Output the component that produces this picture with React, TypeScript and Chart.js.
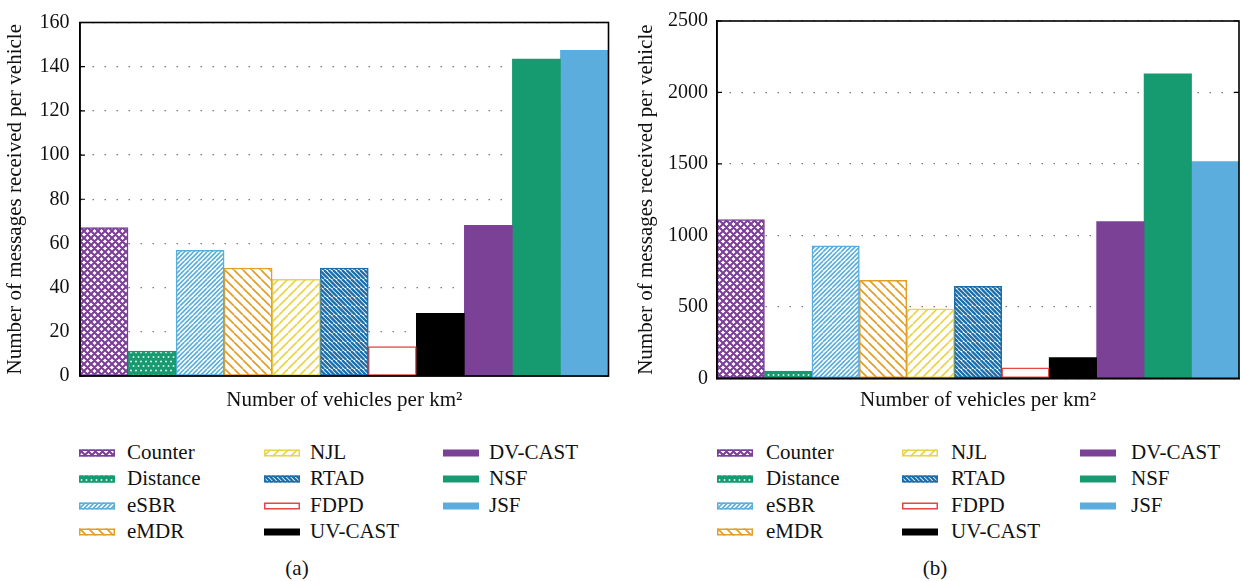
import React, { useEffect, useRef } from 'react';
import { Chart, registerables } from 'chart.js';

Chart.register(...registerables);

const FONT = "'Liberation Serif', 'Times New Roman', serif";

const seriesNames = ['Counter', 'Distance', 'eSBR', 'eMDR', 'NJL', 'RTAD', 'FDPD', 'UV-CAST', 'DV-CAST', 'NSF', 'JSF'];
const seriesColors = ['#7B3F98', '#169A70', '#5AAEDE', '#E39E27', '#E9D54B', '#1B6EAA', '#E2483F', '#000000', '#7A4196', '#169A70', '#5AADDC'];
const seriesFills = ['cross', 'dots', 'fwdDense', 'back', 'fwd', 'backDense', 'empty', 'solid', 'solid', 'solid', 'solid'];
const categories = [''];
const valuesA = [67.2, 11.3, 56.9, 48.9, 43.7, 48.9, 13.3, 28.4, 68.2, 143.4, 147.4];
const valuesB = [1110, 50, 927, 685, 486, 643, 73, 145, 1097, 2131, 1516];
const yTicksA = [0, 20, 40, 60, 80, 100, 120, 140, 160];
const yTicksB = [0, 500, 1000, 1500, 2000, 2500];
const legendColumns = [[0, 1, 2, 3], [4, 5, 6, 7], [8, 9, 10]];
const legendRowsY = [453, 479, 506, 532];
const xTitle = 'Number of vehicles per km²';
const yTitle = 'Number of messages received per vehicle';

function makeFill(kind: string, color: string): CanvasPattern | string {
  if (kind === 'solid') return color;
  if (kind === 'empty') return '#ffffff';
  const c = document.createElement('canvas');
  let w = 9;
  let h = 9;
  if (kind === 'dots') { w = 10; h = 9; }
  if (kind === 'cross') { w = 7; h = 7; }
  c.width = w;
  c.height = h;
  const g = c.getContext('2d') as CanvasRenderingContext2D;
  g.fillStyle = kind === 'dots' ? color : '#ffffff';
  g.fillRect(0, 0, w, h);
  if (kind === 'dots') {
    g.fillStyle = '#ffffff';
    const pts = [[1, 1.5], [6, 1.5], [3.5, 6], [8.5, 6]];
    pts.forEach(([x, y]) => g.fillRect(x - 0.8, y - 0.8, 1.6, 1.6));
  } else {
    const dense = kind === 'fwdDense' || kind === 'backDense';
    const s = kind === 'cross' ? 7 : dense ? 4.5 : 9;
    const lw = kind === 'cross' ? 2.1 : kind === 'backDense' ? 2.3 : kind === 'fwdDense' ? 1.6 : 1.7;
    const fwd = kind === 'fwd' || kind === 'fwdDense' || kind === 'cross';
    const back = kind === 'back' || kind === 'backDense' || kind === 'cross';
    g.strokeStyle = color;
    g.lineWidth = lw;
    g.beginPath();
    for (let k = -4; k <= 8; k++) {
      const o = k * s;
      if (fwd) { g.moveTo(o, 0); g.lineTo(o - h, h); }
      if (back) { g.moveTo(o - w, 0); g.lineTo(o - w + h, h); }
    }
    g.stroke();
  }
  const p = document.createElement('canvas').getContext('2d') as CanvasRenderingContext2D;
  return p.createPattern(c, 'repeat') as CanvasPattern;
}

const framePlugin = {
  id: 'frameTicks',
  beforeDatasetsDraw(chart: any) {
    const { ctx, chartArea } = chart;
    const { left, right } = chartArea;
    const y = chart.scales.y;
    ctx.save();
    ctx.strokeStyle = '#000';
    ctx.lineWidth = 1.2;
    y.ticks.forEach((t: any) => {
      const py = y.getPixelForValue(t.value);
      ctx.beginPath();
      ctx.moveTo(left, py);
      ctx.lineTo(left + 5, py);
      ctx.moveTo(right, py);
      ctx.lineTo(right - 5, py);
      ctx.stroke();
    });
    ctx.restore();
  },
  afterDraw(chart: any) {
    const { ctx, chartArea } = chart;
    const { left, right, top, bottom } = chartArea;
    ctx.save();
    ctx.strokeStyle = '#000';
    ctx.lineWidth = 1.6;
    ctx.strokeRect(left, top, right - left, bottom - top);
    ctx.restore();
  },
};

type PanelProps = {
  values: number[];
  yTicks: number[];
  left: number;
  width: number;
  height: number;
  padTop: number;
  padRight: number;
  yAxisWidth: number;
  xAxisHeight: number;
  yTitlePad: number;
  xTitlePad: number;
  tickPad: number;
};

function ChartPanel(p: PanelProps) {
  const ref = useRef<HTMLCanvasElement>(null);
  useEffect(() => {
    const canvas = ref.current;
    if (!canvas) return;
    const chart = new Chart(canvas, {
      type: 'bar',
      data: {
        labels: categories,
        datasets: seriesNames.map((name, i) => ({
          label: name,
          data: [p.values[i]],
          backgroundColor: makeFill(seriesFills[i], seriesColors[i]) as any,
          borderColor: seriesColors[i],
          borderWidth: seriesFills[i] === 'solid' ? 0 : 1.5,
          borderSkipped: false,
          categoryPercentage: 1,
          barPercentage: 1,
        })),
      },
      options: {
        responsive: false,
        animation: false,
        layout: { padding: { top: p.padTop, right: p.padRight, left: 0, bottom: 0 } },
        plugins: { legend: { display: false }, tooltip: { enabled: false } },
        scales: {
          x: {
            ticks: { display: false },
            grid: { display: false },
            border: { color: '#000', width: 1.5 },
            title: {
              display: true,
              text: xTitle,
              color: '#111',
              font: { family: FONT, size: 21 },
              padding: { top: 0, bottom: p.xTitlePad },
            },
            afterFit: (s: any) => { s.height = p.xAxisHeight; },
          },
          y: {
            min: p.yTicks[0],
            max: p.yTicks[p.yTicks.length - 1],
            ticks: {
              stepSize: p.yTicks[1] - p.yTicks[0],
              padding: p.tickPad,
              color: '#111',
              font: { family: FONT, size: 20 },
              callback: (v: any) => String(v),
            },
            grid: { color: '#7a7a7a', lineWidth: 1.3, drawTicks: false },
            border: { color: '#000', width: 1.5, dash: [1.5, 10.5] },
            title: {
              display: true,
              text: yTitle,
              color: '#111',
              font: { family: FONT, size: 21 },
              padding: { top: p.yTitlePad, bottom: 0 },
            },
            afterFit: (s: any) => { s.width = p.yAxisWidth; },
          },
        },
      },
      plugins: [framePlugin],
    } as any);
    return () => chart.destroy();
  }, []);
  return (
    <canvas
      ref={ref}
      width={p.width}
      height={p.height}
      style={{ position: 'absolute', left: p.left, top: 0, width: p.width, height: p.height }}
    />
  );
}

function Swatch({ index, x, y }: { index: number; x: number; y: number }) {
  const ref = useRef<HTMLCanvasElement>(null);
  useEffect(() => {
    const c = ref.current;
    if (!c) return;
    const g = c.getContext('2d') as CanvasRenderingContext2D;
    g.clearRect(0, 0, c.width, c.height);
    g.fillStyle = makeFill(seriesFills[index], seriesColors[index]) as any;
    g.fillRect(1, 1.5, 36, 7);
    if (seriesFills[index] !== 'solid') {
      g.strokeStyle = seriesColors[index];
      g.lineWidth = 1.5;
      g.strokeRect(1.75, 2.25, 34.5, 5.5);
    }
  }, []);
  return <canvas ref={ref} width={38} height={10} style={{ position: 'absolute', left: x, top: y - 5 }} />;
}

function Legend({ swatchX, textX }: { swatchX: number[]; textX: number[] }) {
  const items: React.ReactNode[] = [];
  legendColumns.forEach((col, ci) => {
    col.forEach((si, ri) => {
      const y = legendRowsY[ri];
      items.push(<Swatch key={'s' + si} index={si} x={swatchX[ci]} y={y} />);
      items.push(
        <div
          key={'t' + si}
          style={{
            position: 'absolute',
            left: textX[ci],
            top: y - 14,
            lineHeight: '26px',
            fontSize: 21,
            fontFamily: FONT,
            color: '#111',
            whiteSpace: 'nowrap',
          }}
        >
          {seriesNames[si]}
        </div>
      );
    });
  });
  return <>{items}</>;
}

function Caption({ text, cx }: { text: string; cx: number }) {
  return (
    <div
      style={{
        position: 'absolute',
        left: cx - 30,
        width: 60,
        top: 555,
        lineHeight: '26px',
        textAlign: 'center',
        fontSize: 21,
        fontFamily: FONT,
        color: '#111',
      }}
    >
      {text}
    </div>
  );
}

export default function App() {
  return (
    <div style={{ position: 'absolute', left: 0, top: 0, width: 1241, height: 581, background: '#fff', overflow: 'hidden' }}>
      <ChartPanel
        values={valuesA}
        yTicks={yTicksA}
        left={0}
        width={620}
        height={420}
        padTop={15}
        padRight={11.5}
        yAxisWidth={80}
        xAxisHeight={44}
        yTitlePad={3}
        xTitlePad={7}
        tickPad={10.5}
      />
      <ChartPanel
        values={valuesB}
        yTicks={yTicksB}
        left={625}
        width={616}
        height={420}
        padTop={16.7}
        padRight={2}
        yAxisWidth={92}
        xAxisHeight={41.7}
        yTitlePad={8.6}
        xTitlePad={7}
        tickPad={9}
      />
      <Legend swatchX={[78, 263, 442]} textX={[127, 310, 489]} />
      <Legend swatchX={[716, 901, 1079]} textX={[766, 951, 1131]} />
      <Caption text="(a)" cx={297} />
      <Caption text="(b)" cx={935} />
    </div>
  );
}
